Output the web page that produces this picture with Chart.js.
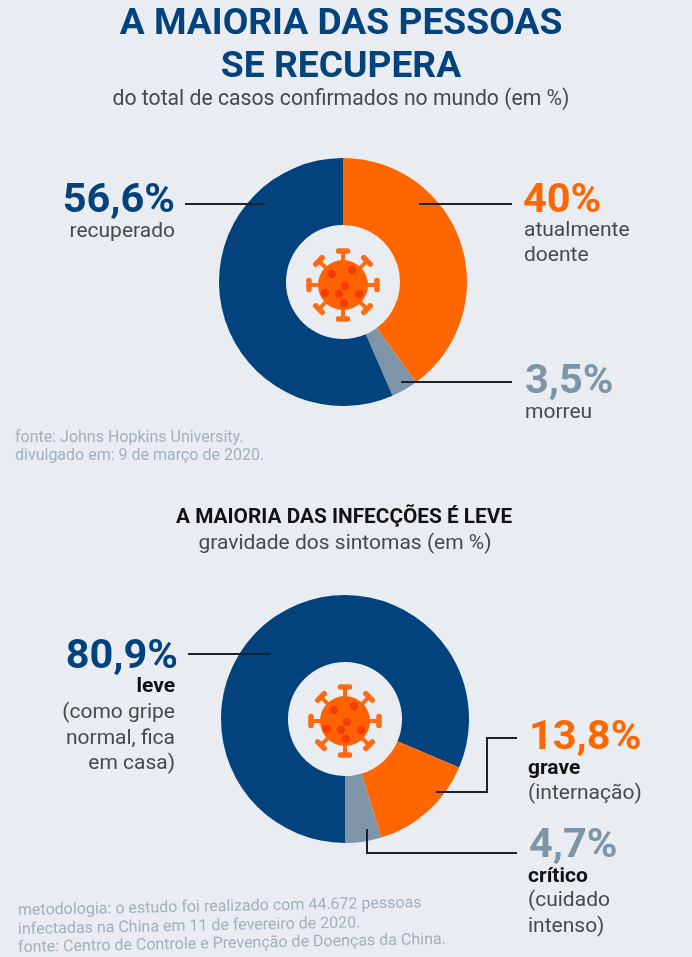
<!DOCTYPE html>
<html lang="pt">
<head>
<meta charset="utf-8">
<title>A maioria das pessoas se recupera</title>
<script src="https://cdn.jsdelivr.net/npm/chart.js@4"></script>
<style>
  html, body { margin: 0; padding: 0; }
  body { width: 692px; height: 957px; position: relative; overflow: hidden; background: #e9edf2; font-family: Roboto, sans-serif; color: #45494d; }
  canvas, svg { position: absolute; }
  .t { position: absolute; white-space: nowrap; transform: translateY(-50%); font-size: 21px; line-height: 1; }
  .c { left: -5px; width: 692px; text-align: center; }
  .title { font-size: 37.2px; font-weight: 700; color: #03437d; }
  .num { font-size: 41.5px; font-weight: 700; }
  .blue { color: #03437d; } .orange { color: #ff6600; } .gray { color: #7d95a7; }
  .b { font-weight: 700; color: #111; }
  .note { font-size: 16px; color: #a2b0bc; }
  .foot { transform-origin: left center; transform: translateY(-50%) rotate(-1.1deg); }
</style>
</head>
<body>
<canvas id="recoveryChart" width="248" height="248" style="left:219px;top:158px;width:248px;height:248px"></canvas>
<canvas id="severityChart" width="248" height="248" style="left:221px;top:595px;width:248px;height:248px"></canvas>
<svg id="overlay" width="692" height="957" style="left:0;top:0"></svg>

<div class="t c title" style="top:22px">A MAIORIA DAS PESSOAS</div>
<div class="t c title" style="top:65px">SE RECUPERA</div>
<div class="t c" style="top:98px;font-size:21.2px">do total de casos confirmados no mundo (em %)</div>

<div class="t num blue" style="top:198px;right:517px">56,6%</div>
<div class="t" style="top:230px;right:517px">recuperado</div>
<div class="t num orange" style="top:198px;left:523px">40%</div>
<div class="t" style="top:229px;left:524px">atualmente</div>
<div class="t" style="top:254px;left:524px">doente</div>
<div class="t num gray" style="top:379px;left:525px">3,5%</div>
<div class="t" style="top:411px;left:525px">morreu</div>
<div class="t note" style="top:437px;left:15px">fonte: Johns Hopkins University.</div>
<div class="t note" style="top:455px;left:15px">divulgado em: 9 de março de 2020.</div>

<div class="t b" style="top:516px;left:176px;font-size:20.8px">A MAIORIA DAS INFECÇÕES É LEVE</div>
<div class="t c" style="top:542px;left:-1px">gravidade dos sintomas (em %)</div>

<div class="t num blue" style="top:654px;right:514px">80,9%</div>
<div class="t b" style="top:685px;right:517px">leve</div>
<div class="t" style="top:711px;right:517px">(como gripe</div>
<div class="t" style="top:737px;right:517px">normal, fica</div>
<div class="t" style="top:762px;right:517px">em casa)</div>
<div class="t num orange" style="top:735px;left:529px">13,8%</div>
<div class="t b" style="top:767px;left:528px">grave</div>
<div class="t" style="top:792px;left:528px">(internação)</div>
<div class="t num gray" style="top:843px;left:529px">4,7%</div>
<div class="t b" style="top:875px;left:528px">crítico</div>
<div class="t" style="top:899px;left:528px">(cuidado</div>
<div class="t" style="top:925px;left:528px">intenso)</div>
<div class="t note foot" style="top:910px;left:18px">metodologia: o estudo foi realizado com 44.672 pessoas</div>
<div class="t note foot" style="top:929px;left:18px">infectadas na China em 11 de fevereiro de 2020.</div>
<div class="t note foot" style="top:947px;left:18px">fonte: Centro de Controle e Prevenção de Doenças da China.</div>

<script>
const recoveryLabels = ["atualmente doente", "morreu", "recuperado"];
const recoveryValues = [40, 3.5, 56.6];
const recoveryColors = ["#ff6600", "#7d95a7", "#03437d"];

const severityLabels = ["leve", "grave", "crítico"];
const severityValues = [80.9, 13.8, 4.7];
const severityColors = ["#03437d", "#ff6600", "#7d95a7"];

function makeDonut(id, labels, values, colors, rotation) {
  return new Chart(document.getElementById(id).getContext("2d"), {
    type: "doughnut",
    data: {
      labels: labels,
      datasets: [{ data: values, backgroundColor: colors, borderWidth: 0 }]
    },
    options: {
      responsive: false,
      animation: false,
      cutout: "46%",
      rotation: rotation,
      layout: { padding: 0 },
      plugins: { legend: { display: false }, tooltip: { enabled: false } }
    }
  });
}

makeDonut("recoveryChart", recoveryLabels, recoveryValues, recoveryColors, 0);
makeDonut("severityChart", severityLabels, severityValues, severityColors, 180);

// leader lines and the two virus icons
const leaderLines = [
  "185,204 265,204", "419,204 512,204", "401,382 512,382",
  "188,654 270,654", "517,738 487,738 487,792 436,792", "367,829 367,853 517,853"
];
const spots = [[-11,-11],[9,-15],[2,1],[-18,8],[-4,9],[16,9],[1,18]];

let svg = "";
leaderLines.forEach(p => {
  svg += `<polyline points="${p}" fill="none" stroke="#1b2229" stroke-width="2"/>`;
});

function virus(cx, cy) {
  let s = `<g transform="translate(${cx} ${cy})">`;
  for (let a = 0; a < 360; a += 45) {
    s += `<g transform="rotate(${a})" stroke="#ff6a13" stroke-linecap="round">` +
      `<line x1="0" y1="-20" x2="0" y2="-33" stroke-width="4"/>` +
      `<line x1="-4.5" y1="-34" x2="4.5" y2="-34" stroke-width="5.5"/></g>`;
  }
  s += `<circle r="25" fill="#ff6200"/>`;
  spots.forEach(d => { s += `<circle cx="${d[0]}" cy="${d[1]}" r="4.2" fill="#f53c08"/>`; });
  return s + "</g>";
}
svg += virus(343, 285) + virus(345, 721);
document.getElementById("overlay").innerHTML = svg;
</script>
</body>
</html>
